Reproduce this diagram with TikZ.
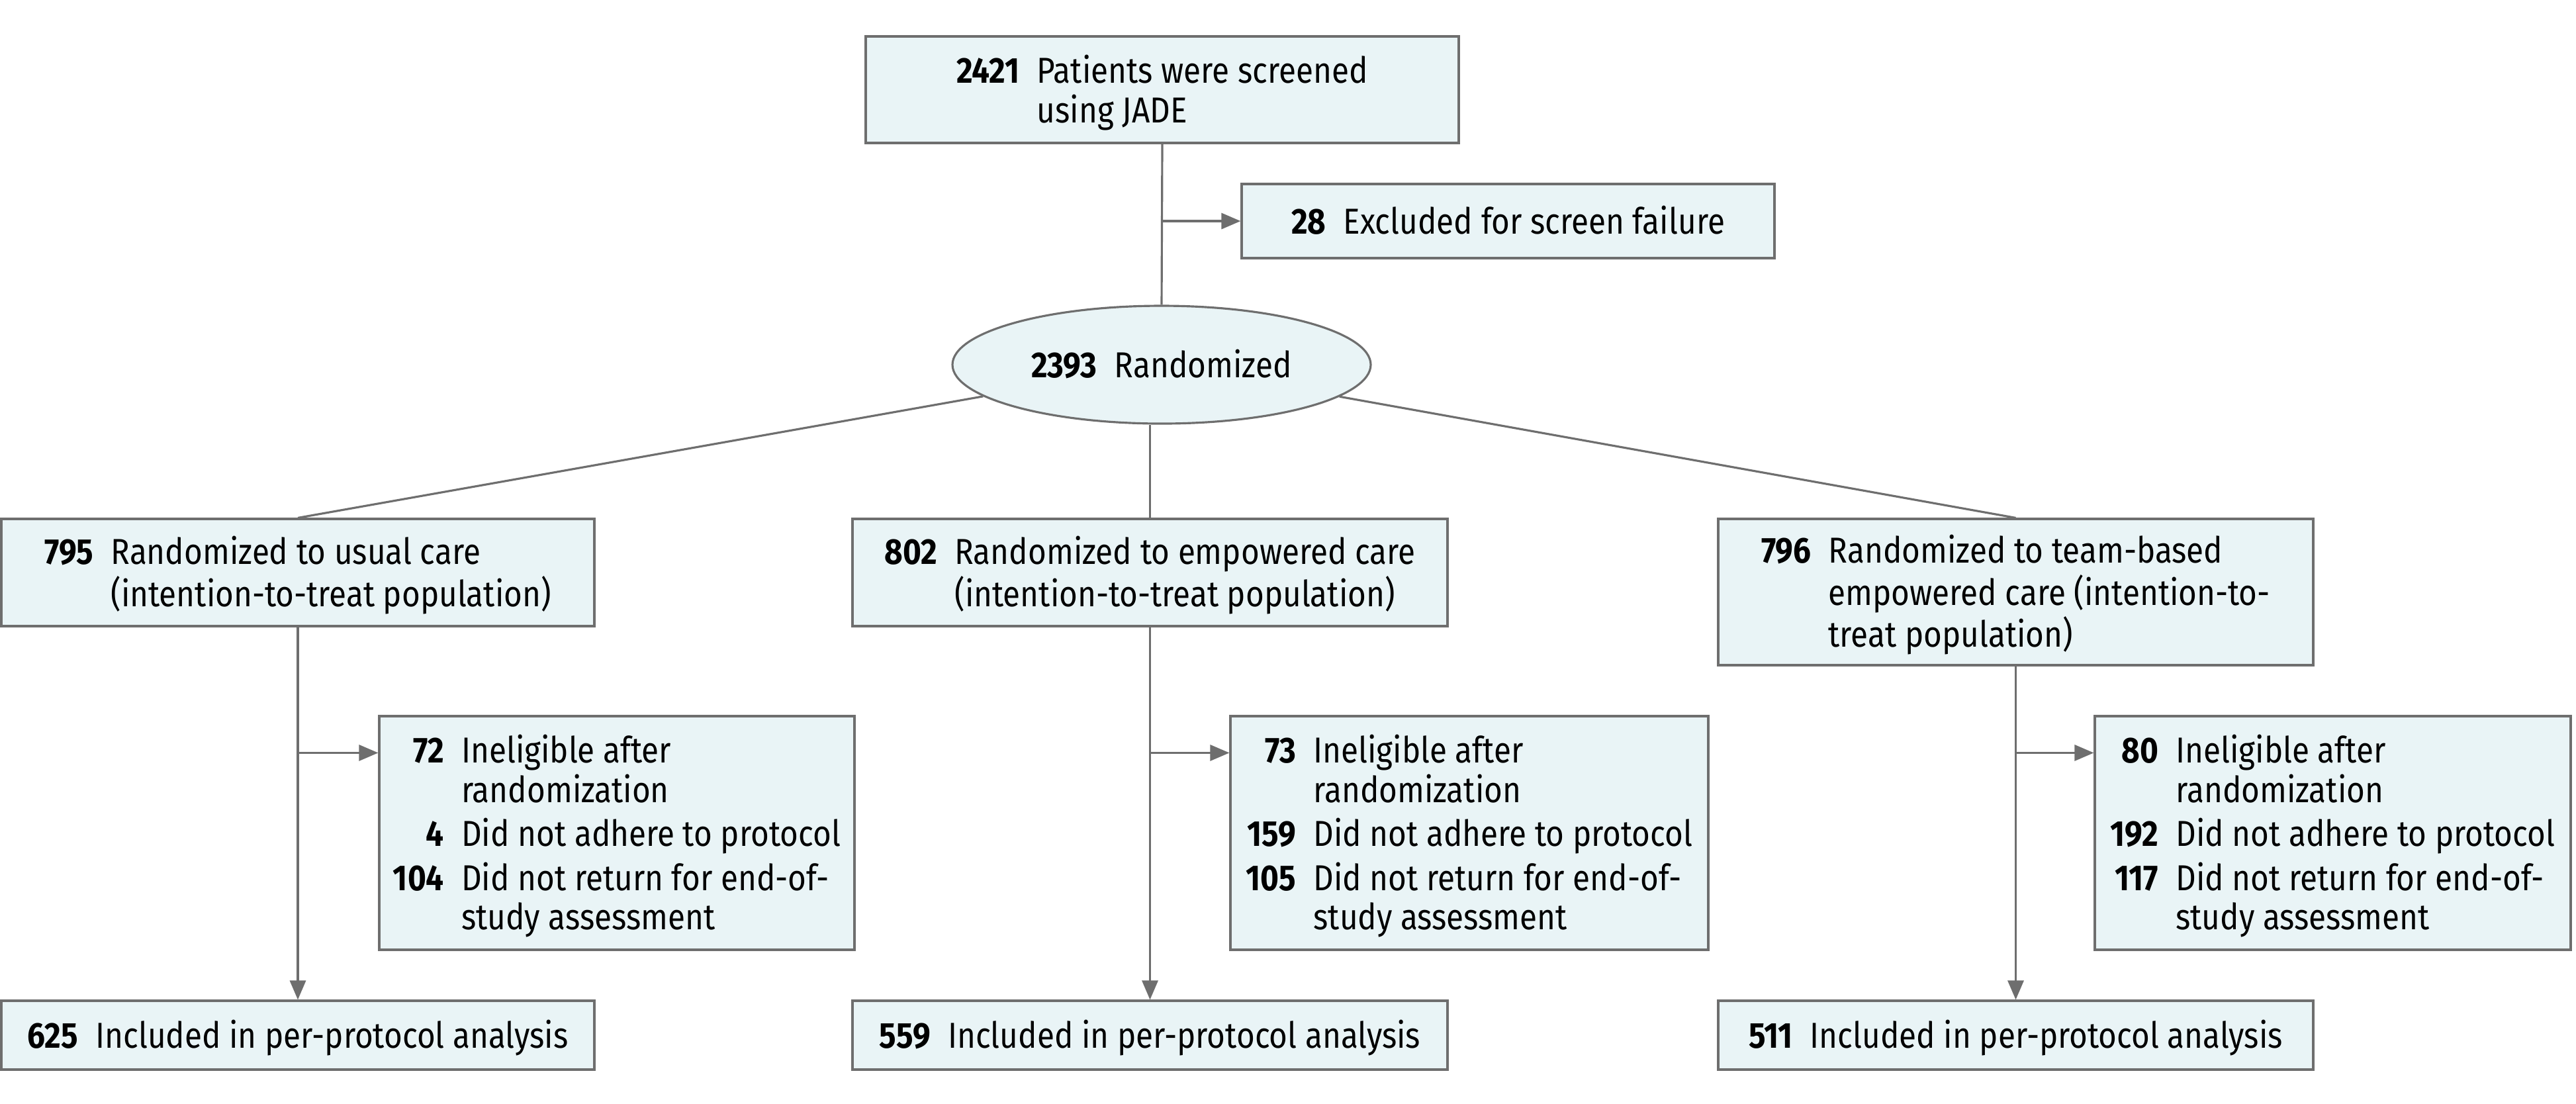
\documentclass[tikz,border=0pt]{standalone}
\usepackage{fontspec}
\setmainfont[FakeStretch=0.875]{Fira Sans}
\usetikzlibrary{shapes.geometric,arrows.meta}
\definecolor{boxfill}{HTML}{E9F4F6}
\definecolor{linegray}{HTML}{6E6E6E}

\newcommand{\flowtab}[1]{\raisebox{-2pt}[\height][\depth]{\begin{tabular}{@{}r@{\hspace{7.5pt}}l@{}}#1\end{tabular}}}

\begin{document}
\begin{tikzpicture}[>={Triangle[length=2.9mm,width=2.4mm]}]
    \tikzstyle{every node}=[font=\fontsize{15.5}{16.5}\selectfont]
    \tikzstyle{box}=[draw=linegray,fill=boxfill,line width=0.9pt,inner sep=0pt,align=left]
    \tikzstyle{line}=[draw=linegray,line width=0.9pt]

    \useasboundingbox (0,0) rectangle (38.92,-16.67);

    \node[box,minimum width=8.96cm,minimum height=1.61cm] (screen) at (17.56,-1.355)
    {\flowtab{\textbf{2421} & Patients were screened\\ & using JADE}};

    \node[box,minimum width=8.05cm,minimum height=1.12cm] (excl) at (22.785,-3.34)
    {\flowtab{\textbf{28} & Excluded for screen failure}};

    \node[box,ellipse,minimum width=6.32cm,minimum height=1.78cm] (rand) at (17.55,-5.51)
    {\flowtab{\textbf{2393} & Randomized}};

    \node[box,minimum width=8.96cm,minimum height=1.62cm] (usual) at (4.50,-8.65)
    {\flowtab{\textbf{795} & Randomized to usual care\\ & (intention-to-treat population)}};

    \node[box,minimum width=8.99cm,minimum height=1.62cm] (emp) at (17.375,-8.65)
    {\flowtab{\textbf{802} & Randomized to empowered care\\ & (intention-to-treat population)}};

    \node[box,minimum width=8.99cm,minimum height=2.21cm] (team) at (30.455,-8.945)
    {\flowtab{\textbf{796} & Randomized to team-based\\ & empowered care (intention-to-\\ & treat population)}};

    \node[box,minimum width=7.18cm,minimum height=3.53cm] (ex1) at (9.32,-12.585)
    {\flowtab{\textbf{72} & Ineligible after\\ & randomization\\[2pt]
    \textbf{4} & Did not adhere to protocol\\[2pt]
    \textbf{104} & Did not return for end-of-\\ & study assessment}};

    \node[box,minimum width=7.22cm,minimum height=3.53cm] (ex2) at (22.20,-12.585)
    {\flowtab{\textbf{73} & Ineligible after\\ & randomization\\[2pt]
    \textbf{159} & Did not adhere to protocol\\[2pt]
    \textbf{105} & Did not return for end-of-\\ & study assessment}};

    \node[box,minimum width=7.19cm,minimum height=3.53cm] (ex3) at (35.245,-12.585)
    {\flowtab{\textbf{80} & Ineligible after\\ & randomization\\[2pt]
    \textbf{192} & Did not adhere to protocol\\[2pt]
    \textbf{117} & Did not return for end-of-\\ & study assessment}};

    \node[box,minimum width=8.96cm,minimum height=1.04cm] (pp1) at (4.50,-15.64)
    {\flowtab{\textbf{625} & Included in per-protocol analysis}};

    \node[box,minimum width=8.99cm,minimum height=1.04cm] (pp2) at (17.375,-15.64)
    {\flowtab{\textbf{559} & Included in per-protocol analysis}};

    \node[box,minimum width=8.99cm,minimum height=1.04cm] (pp3) at (30.455,-15.64)
    {\flowtab{\textbf{511} & Included in per-protocol analysis}};

    % entry points of the exclusion arrows
    \coordinate (ex1in) at ([yshift=-0.57cm]ex1.north west);
    \coordinate (ex2in) at ([yshift=-0.57cm]ex2.north west);
    \coordinate (ex3in) at ([yshift=-0.57cm]ex3.north west);

    \draw[line] (screen.south) -- (rand.north);
    \draw[line,->] (screen.south |- excl.west) -- (excl.west);

    \draw[line] (rand) -- (usual.north);
    \draw[line] (rand.south -| emp.north) -- (emp.north);
    \draw[line] (rand) -- (team.north);

    \draw[line,->] (usual.south) -- (pp1.north);
    \draw[line,->] (usual.south |- ex1in) -- (ex1in);

    \draw[line,->] (emp.south) -- (pp2.north);
    \draw[line,->] (emp.south |- ex2in) -- (ex2in);

    \draw[line,->] (team.south) -- (pp3.north);
    \draw[line,->] (team.south |- ex3in) -- (ex3in);
\end{tikzpicture}
\end{document}
